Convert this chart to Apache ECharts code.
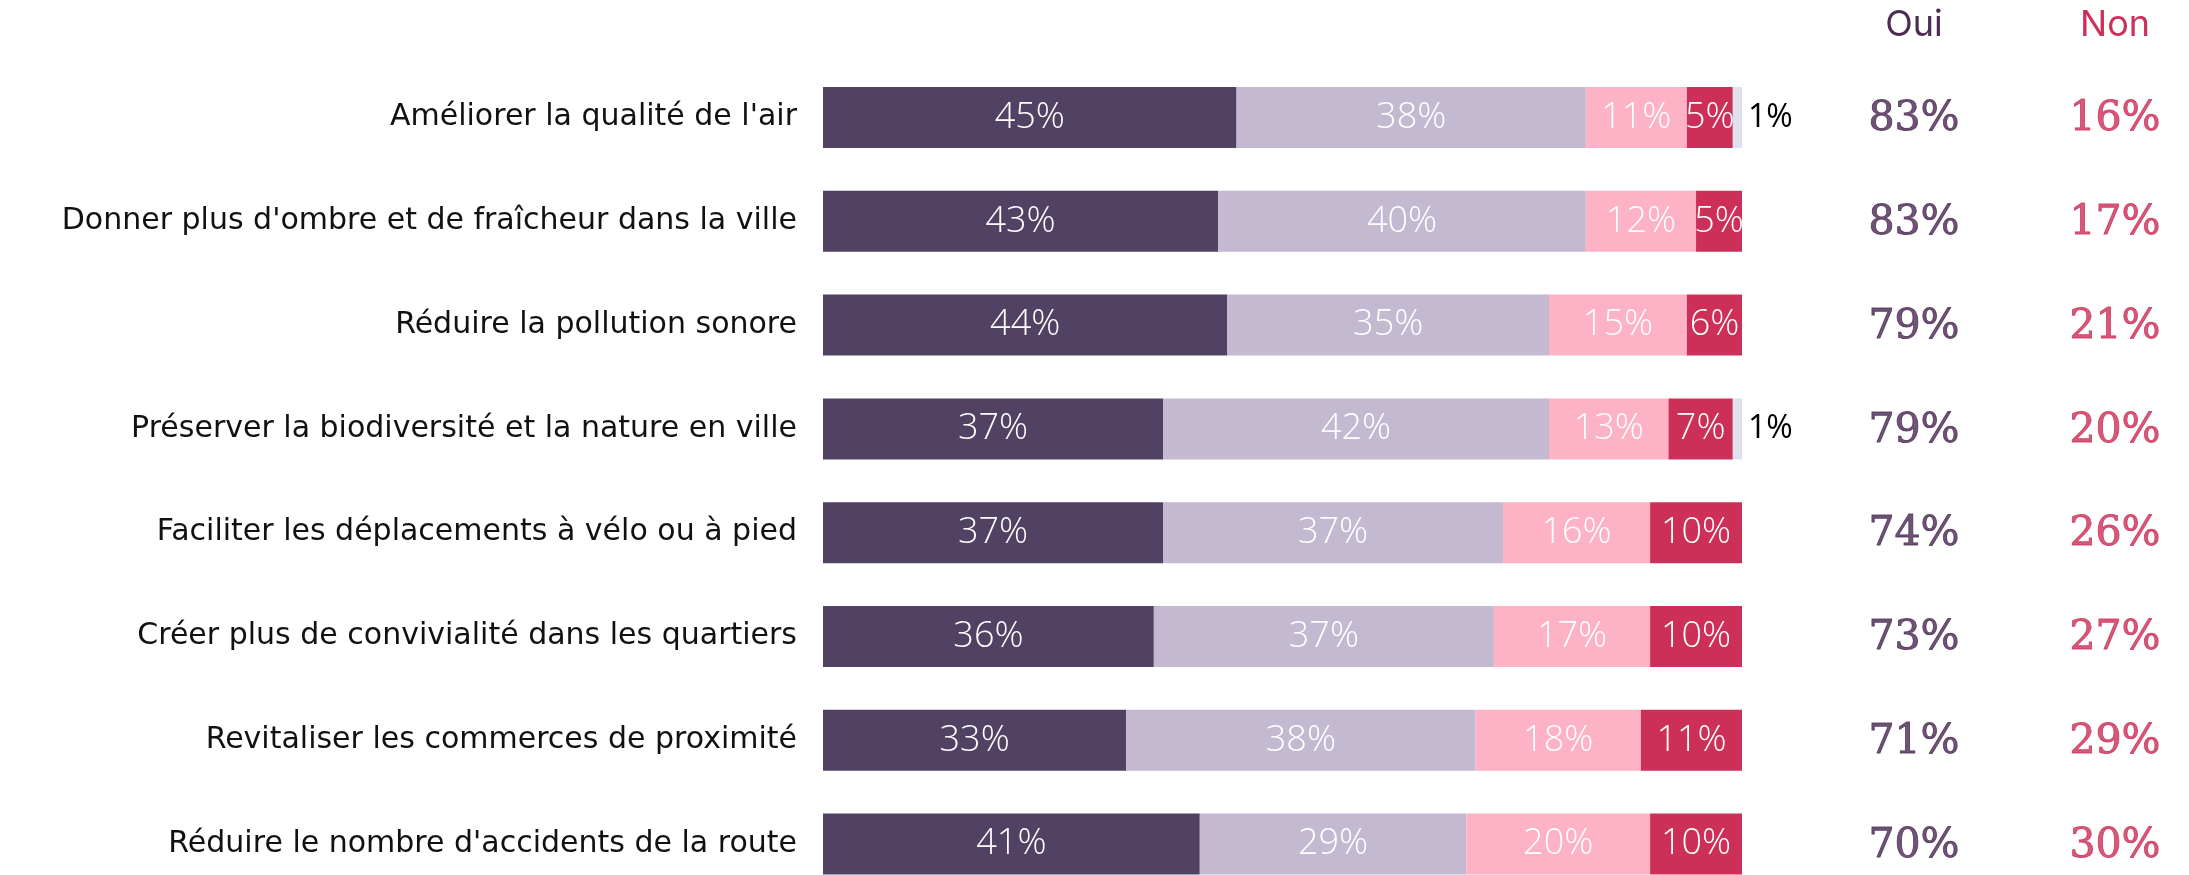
<!DOCTYPE html>
<html>
<head>
<meta charset="utf-8">
<script src="https://cdn.jsdelivr.net/npm/echarts@6/dist/echarts.min.js"></script>
<style>html,body{margin:0;padding:0;background:#fff;}#c{width:2189px;height:875px;}</style>
</head>
<body>
<div id="c"></div>
<script>
var categories = [
  "Améliorer la qualité de l'air",
  "Donner plus d'ombre et de fraîcheur dans la ville",
  "Réduire la pollution sonore",
  "Préserver la biodiversité et la nature en ville",
  "Faciliter les déplacements à vélo ou à pied",
  "Créer plus de convivialité dans les quartiers",
  "Revitaliser les commerces de proximité",
  "Réduire le nombre d'accidents de la route"
];
var s1 = [45, 43, 44, 37, 37, 36, 33, 41];
var s2 = [38, 40, 35, 42, 37, 37, 38, 29];
var s3 = [11, 12, 15, 13, 16, 17, 18, 20];
var s4 = [5, 5, 6, 7, 10, 10, 11, 10];
var s5 = [1, 0, 0, 1, 0, 0, 0, 0];
var oui = [83, 83, 79, 79, 74, 73, 71, 70];
var non = [16, 17, 21, 20, 26, 27, 29, 30];
var columns = ["Oui", "Non"];

var chart = echarts.init(document.getElementById('c'), null, {renderer: 'canvas'});
var colors = ['#514263', '#c3b9d1', '#fdb3c5', '#cc3059', '#dee1ee'];
var barFont = "'Open Sans', sans-serif";
function fmt(p) { return p.value > 0 ? p.value + '%' : ''; }
function barSeries(data, idx) {
  return {
    type: 'bar', stack: 'total', data: data, barWidth: 61,
    xAxisIndex: 0, yAxisIndex: 0,
    itemStyle: {color: colors[idx]},
    label: {
      show: true, position: idx === 4 ? 'right' : 'inside', distance: 6,
      color: idx === 4 ? '#000' : '#fff',
      fontFamily: barFont, fontWeight: idx === 4 ? 400 : 300, fontSize: idx === 4 ? 32 : 36, formatter: fmt
    },
    emphasis: {disabled: true}, animation: false
  };
}
function colSeries(vals, col, color) {
  return {
    type: 'scatter', xAxisIndex: 1, yAxisIndex: 1,
    data: vals.map(function (v, i) { return [col, i, v]; }),
    symbolSize: 2, itemStyle: {color: 'rgba(0,0,0,0)'},
    label: {
      show: true, position: 'inside', offset: [0, 2],
      formatter: function (p) { return p.data[2] + '%'; },
      color: color, fontFamily: "'DejaVu Serif', 'Liberation Serif', serif",
      fontSize: 41, textBorderColor: color, textBorderWidth: 0.9
    },
    emphasis: {disabled: true}, animation: false
  };
}
var gridTop = 65.6, gridH = 830.4;
chart.setOption({
  backgroundColor: '#fff',
  animation: false,
  grid: [
    {left: 823, width: 919, top: gridTop, height: gridH, outerBoundsMode: 'none', containLabel: false},
    {left: 1813.5, width: 402, top: gridTop, height: gridH, outerBoundsMode: 'none', containLabel: false}
  ],
  xAxis: [
    {type: 'value', gridIndex: 0, min: 0, max: 100, show: false},
    {type: 'category', gridIndex: 1, data: columns, position: 'top',
     axisLine: {show: false}, axisTick: {show: false}, splitLine: {show: false},
     axisLabel: {
       margin: 22, fontFamily: 'Inter, sans-serif', fontSize: 36, lineHeight: 36,
       formatter: function (v) { return v === 'Oui' ? '{o|' + v + '}' : '{n|' + v + '}'; },
       rich: {o: {color: '#4b2b52', fontFamily: 'Inter, sans-serif', fontSize: 36},
              n: {color: '#cc2f57', fontFamily: 'Inter, sans-serif', fontSize: 36}}
     }}
  ],
  yAxis: [
    {type: 'category', gridIndex: 0, data: categories, inverse: true,
     axisLine: {show: false}, axisTick: {show: false}, splitLine: {show: false},
     axisLabel: {margin: 26, fontFamily: "'DejaVu Sans', sans-serif", fontSize: 30, color: '#111'}},
    {type: 'category', gridIndex: 1, data: categories, inverse: true, show: false}
  ],
  series: [
    barSeries(s1, 0), barSeries(s2, 1), barSeries(s3, 2), barSeries(s4, 3), barSeries(s5, 4),
    colSeries(oui, 'Oui', '#4b2b52'), colSeries(non, 'Non', '#cc2f57')
  ]
});
</script>
</body>
</html>
